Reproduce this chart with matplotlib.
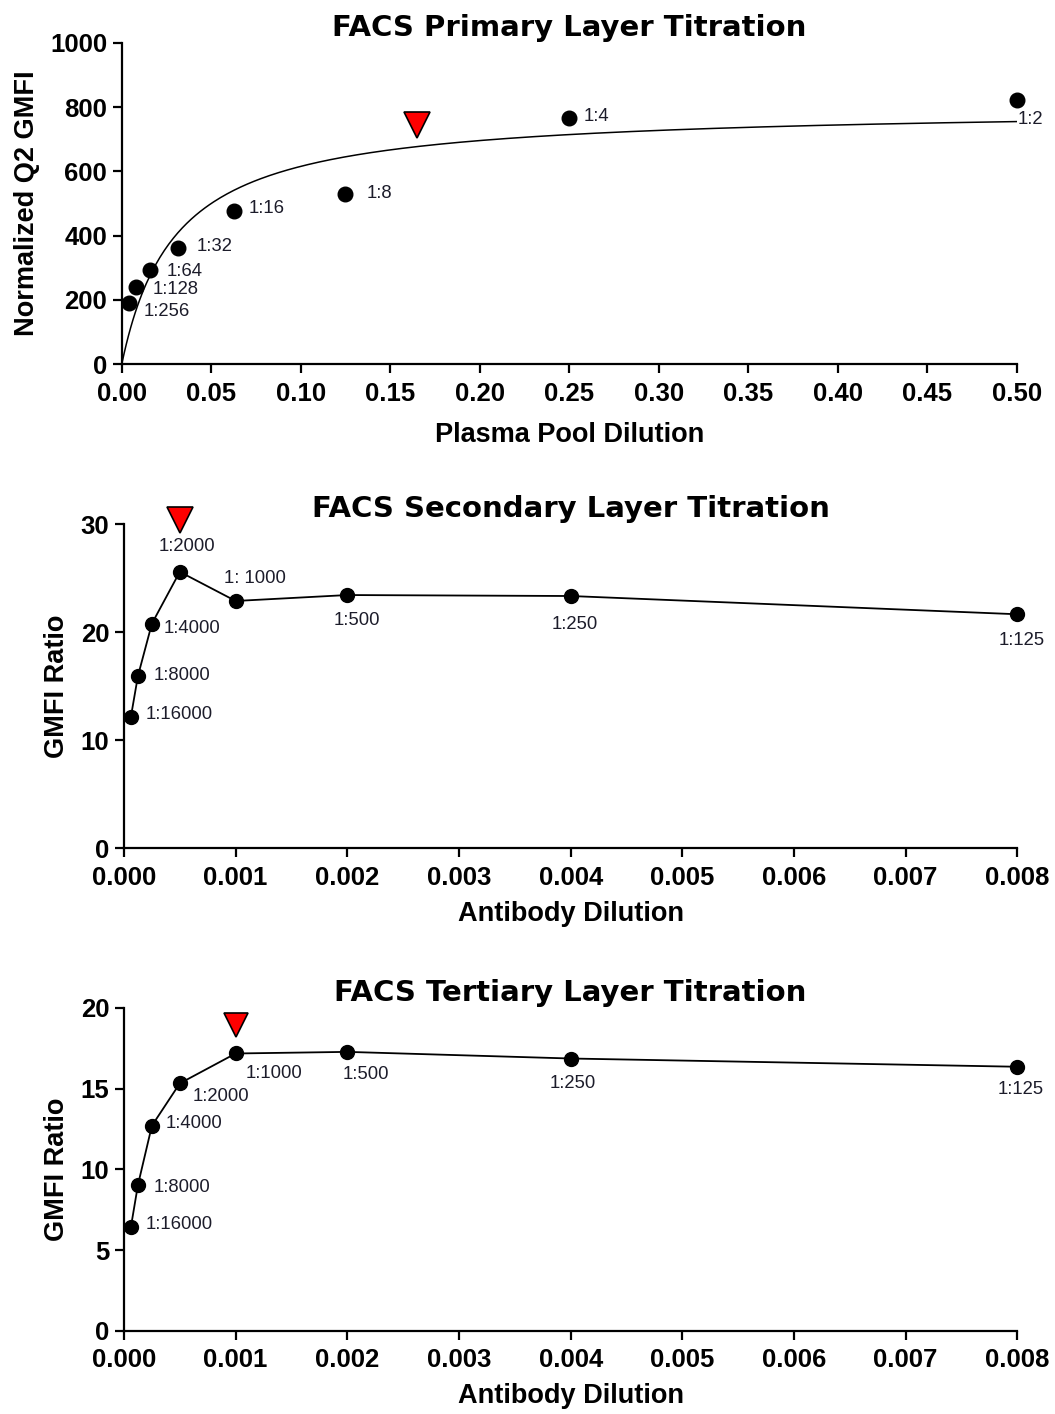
import numpy as np
import matplotlib
matplotlib.use("Agg")
import matplotlib.pyplot as plt

plt.rcParams.update({
    "font.family": ["Liberation Sans", "DejaVu Sans"],
    "font.weight": "bold",
    "axes.labelweight": "bold",
    "axes.linewidth": 1.6,
    "xtick.major.width": 1.6,
    "ytick.major.width": 1.6,
    "xtick.major.size": 6.5,
    "ytick.major.size": 6.5,
    "xtick.major.pad": 6,
    "ytick.major.pad": 4,
})

# primary layer: plasma pool dilution series
prim_labels = ["1:256", "1:128", "1:64", "1:32", "1:16", "1:8", "1:4", "1:2"]
prim_x = [1/256, 1/128, 1/64, 1/32, 1/16, 1/8, 1/4, 1/2]
prim_y = [190, 239, 293, 363, 478, 530, 765, 822]
# one-site hyperbolic fit (Bmax, Kd)
prim_bmax = 800
prim_kd = 0.030
prim_pick = (0.165, 745)

# secondary layer: antibody dilution series
sec_labels = ["1:16000", "1:8000", "1:4000", "1:2000", "1: 1000", "1:500", "1:250", "1:125"]
sec_x = [1/16000, 1/8000, 1/4000, 1/2000, 1/1000, 1/500, 1/250, 1/125]
sec_y = [12.2, 15.95, 20.8, 25.6, 22.9, 23.45, 23.36, 21.67]
sec_pick = (0.0005, 30.4)

# tertiary layer
ter_labels = ["1:16000", "1:8000", "1:4000", "1:2000", "1:1000", "1:500", "1:250", "1:125"]
ter_x = [1/16000, 1/8000, 1/4000, 1/2000, 1/1000, 1/500, 1/250, 1/125]
ter_y = [6.45, 9.03, 12.7, 15.32, 17.17, 17.27, 16.86, 16.35]
ter_pick = (0.001, 18.92)

lab_kw = dict(fontsize=13.3, fontweight="normal", color="#1c1c2a")
title_kw = dict(fontsize=21, fontweight="bold", family="DejaVu Sans", pad=5)


def style(ax, xlim, ylim, xticks, yticks, xfmt):
    ax.spines["top"].set_visible(False)
    ax.spines["right"].set_visible(False)
    ax.set_xlim(*xlim)
    ax.set_ylim(*ylim)
    ax.set_xticks(xticks)
    ax.set_xticklabels([xfmt.format(t) for t in xticks])
    ax.set_yticks(yticks)
    ax.tick_params(labelsize=18.5)


def annotate(ax, xs, ys, labels, offsets):
    # offsets in pixels: (dx, dy, horizontal alignment)
    for x, y, s, (dx, dy, ha) in zip(xs, ys, labels, offsets):
        ax.annotate(s, (x, y), xytext=(dx, dy), textcoords="offset pixels",
                    ha=ha, va="center", annotation_clip=False, **lab_kw)


fig = plt.figure(figsize=(10.55, 14.14), dpi=100)
ax1 = fig.add_axes([0.1154, 0.7424, 0.8483, 0.2274])
ax2 = fig.add_axes([0.1175, 0.4001, 0.8468, 0.2291])
ax3 = fig.add_axes([0.1175, 0.0587, 0.8468, 0.2286])

# --- primary
xf = np.linspace(0, 0.5, 400)
ax1.plot(xf, prim_bmax * xf / (prim_kd + xf), color="black", lw=1.1, zorder=2)
ax1.plot(prim_x, prim_y, "o", color="black", ms=10.5, zorder=3, clip_on=False)
ax1.plot(*prim_pick, "v", ms=19, mfc="red", mec="black", mew=1.2, clip_on=False, zorder=4)
annotate(ax1, prim_x, prim_y, prim_labels, [
    (15, -8, "left"), (17, -2, "left"), (17, -1, "left"), (19, 1, "left"),
    (15, 2, "left"), (21, 0, "left"), (14, 2, "left"), (1, -20, "left")])
style(ax1, (0, 0.5), (0, 1000), np.arange(0, 0.51, 0.05), np.arange(0, 1001, 200), "{:.2f}")
ax1.set_title("FACS Primary Layer Titration", **title_kw)
ax1.set_xlabel("Plasma Pool Dilution", fontsize=19.5, labelpad=12)
ax1.set_ylabel("Normalized Q2 GMFI", fontsize=19.5, labelpad=7)

# --- secondary
ax2.plot(sec_x, sec_y, "-o", color="black", lw=1.3, ms=10, zorder=3, clip_on=False)
ax2.plot(*sec_pick, "v", ms=19, mfc="red", mec="black", mew=1.2, clip_on=False, zorder=4)
annotate(ax2, sec_x, sec_y, sec_labels, [
    (15, 2, "left"), (16, 1, "left"), (12, -5, "left"), (7, 25, "center"),
    (19, 22, "center"), (10, -25, "center"), (4, -28, "center"), (4, -26, "center")])
style(ax2, (0, 0.008), (0, 30), np.arange(0, 0.0081, 0.001), np.arange(0, 31, 10), "{:.3f}")
ax2.set_title("FACS Secondary Layer Titration", **title_kw)
ax2.set_xlabel("Antibody Dilution", fontsize=19.5, labelpad=8)
ax2.set_ylabel("GMFI Ratio", fontsize=19.5, labelpad=8)

# --- tertiary
ax3.plot(ter_x, ter_y, "-o", color="black", lw=1.3, ms=10, zorder=3, clip_on=False)
ax3.plot(*ter_pick, "v", ms=17, mfc="red", mec="black", mew=1.2, clip_on=False, zorder=4)
annotate(ax3, ter_x, ter_y, ter_labels, [
    (15, 2, "left"), (16, -2, "left"), (14, 2, "left"), (13, -13, "left"),
    (10, -20, "left"), (19, -23, "center"), (2, -25, "center"), (3, -23, "center")])
style(ax3, (0, 0.008), (0, 20), np.arange(0, 0.0081, 0.001), np.arange(0, 21, 5), "{:.3f}")
ax3.set_title("FACS Tertiary Layer Titration", **title_kw)
ax3.set_xlabel("Antibody Dilution", fontsize=19.5, labelpad=8)
ax3.set_ylabel("GMFI Ratio", fontsize=19.5, labelpad=8)

fig.savefig("out.png", dpi=100, facecolor="white")
